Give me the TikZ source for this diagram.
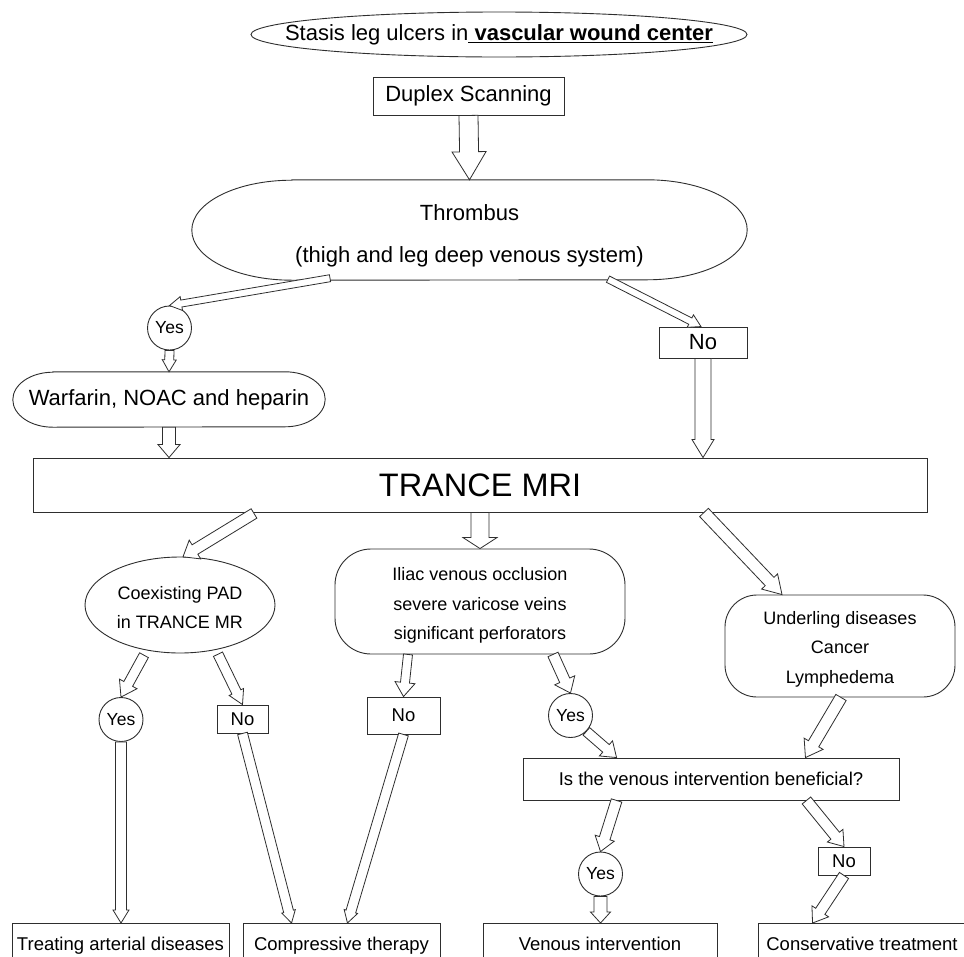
\documentclass[tikz,border=0pt]{standalone}
\usepackage{fontspec}
\setmainfont{Liberation Sans}
\usetikzlibrary{calc,shapes.geometric}
\definecolor{linec}{HTML}{2E2E2E}
\newcommand\fbig{\fontsize{22}{26}\selectfont}
\newcommand\fthr{\fontsize{22}{42}\selectfont}
\newcommand\fmid{\fontsize{18}{29.5}\selectfont}
\newcommand\fyes{\fontsize{17.5}{20}\selectfont}
\newcommand\fhuge{\fontsize{32.5}{38}\selectfont}
\newcommand\fsm{\fontsize{18.5}{22}\selectfont}
\tikzset{
  box/.style={draw=linec, line width=0.9pt, inner sep=0pt, align=center, fill=white},
  txt/.style={inner sep=0pt, align=center},
  shp/.style={draw=linec, line width=0.9pt},
  yesc/.style={box, circle, minimum size=44pt, font=\fyes},
  endbox/.style={box, anchor=north, minimum height=46pt, text height=13pt, text depth=4pt, font=\fsm},
  harrow/.style={draw=linec, line width=0.8pt, fill=white, line join=miter},
}
% hollow arrow: #1 start, #2 end, #3 shaft half width, #4 head half width, #5 head length
\newcommand\harr[5]{%
  \path (#1) coordinate (hA) (#2) coordinate (hB);
  \path ($(hB)!#5pt!(hA)$) coordinate (hH);
  \draw[harrow] ($(hA)!#3pt!90:(hB)$) -- ($(hH)!#3pt!-90:(hA)$) -- ($(hH)!#4pt!-90:(hA)$)
    -- (hB) -- ($(hH)!#4pt!90:(hA)$) -- ($(hH)!#3pt!90:(hA)$) -- ($(hA)!#3pt!-90:(hB)$) -- cycle;
}
\begin{document}
\begin{tikzpicture}[x=1pt,y=-1pt]
\useasboundingbox (0,0) rectangle (964,956);
\clip (0,0) rectangle (964,956);
\fill[white] (0,0) rectangle (964,956);

% nodes
\node[txt, minimum width=496pt, minimum height=45pt, font=\fbig] (title) at (499,34.5)
  {Stasis leg ulcers in\underline{\textbf{\ vascular wound center}}};
\draw[shp] (title.center) ellipse[x radius=248pt, y radius=22.5pt];
\node[box, minimum width=191pt, minimum height=38pt, font=\fbig] (dup) at (468.5,96) {Duplex Scanning};
\node[txt, minimum width=555pt, minimum height=100pt, text height=70pt, font=\fthr] (thr) at (469.5,230)
  {Thrombus\\(thigh and leg deep venous system)};
\draw[shp] ([xshift=100pt]thr.north west) -- ([xshift=-100pt]thr.north east)
  arc[start angle=90, end angle=-90, x radius=100pt, y radius=50pt]
  -- ([xshift=100pt]thr.south west)
  arc[start angle=270, end angle=90, x radius=100pt, y radius=50pt] -- cycle;
\node[yesc] (y1) at (169.5,328) {Yes};
\node[txt, minimum width=312pt, minimum height=55pt, font=\fbig] (war) at (169,399.5) {Warfarin, NOAC and heparin};
\draw[shp] ([xshift=40pt]war.north west) -- ([xshift=-40pt]war.north east)
  arc[start angle=90, end angle=-90, x radius=40pt, y radius=27.5pt]
  -- ([xshift=40pt]war.south west)
  arc[start angle=270, end angle=90, x radius=40pt, y radius=27.5pt] -- cycle;
\node[box, minimum width=88pt, minimum height=31pt, font=\fbig] (n1) at (703,342.5) {No};
\node[box, minimum width=894pt, minimum height=54pt, font=\fhuge] (mri) at (480,485) {TRANCE MRI};
\node[txt, minimum width=190pt, minimum height=96pt, text height=47.5pt, font=\fmid] (pad) at (180,605)
  {Coexisting PAD\\in TRANCE MR};
\draw[shp] (pad.center) ellipse[x radius=95pt, y radius=48pt];
\node[box, rounded corners=36pt, minimum width=290pt, minimum height=105pt, text height=80pt, font=\fmid] (ili) at (480,601.5)
  {Iliac venous occlusion\\severe varicose veins\\significant perforators};
\node[box, rounded corners=32pt, minimum width=230pt, minimum height=102pt, text height=78pt, font=\fmid] (und) at (840,646)
  {Underling diseases\\Cancer\\Lymphedema};
\node[yesc] (y2) at (121,719.5) {Yes};
\node[box, minimum width=51pt, minimum height=28pt, font=\fsm] (n2) at (242.5,719) {No};
\node[box, minimum width=73pt, minimum height=37pt, font=\fsm] (n3) at (403.5,715.5) {No};
\node[yesc] (y3) at (570.5,715.5) {Yes};
\node[box, minimum width=376pt, minimum height=42pt, font=\fsm] (is) at (711,779)
  {Is the venous intervention beneficial?};
\node[yesc] (y4) at (600.5,874) {Yes};
\node[box, minimum width=52pt, minimum height=28pt, font=\fsm] (n4) at (844,861) {No};
\node[endbox, minimum width=217pt] (treat) at (120.5,923) {Treating arterial diseases};
\node[endbox, minimum width=197pt] (comp) at (341.5,923) {Compressive therapy};
\node[endbox, minimum width=234pt] (ven) at (600,923) {Venous intervention};
\node[endbox, minimum width=208pt] (cons) at (862,923) {Conservative treatment};

% connectors
\harr{dup.south}{thr.north}{9.5}{17}{28}
\harr{$(thr.south)+(-139.5,-2)$}{y1.north}{3.5}{7}{12}
\harr{y1.south}{war.north}{4.5}{7}{12}
\harr{$(thr.south)+(138.5,-1)$}{$(n1.north)+(-2,0)$}{3.5}{7}{12}
\harr{n1.south}{n1.south |- mri.north}{8}{11}{18}
\harr{war.south}{war.south |- mri.north}{6.5}{11}{13}
\harr{$(mri.south)+(-226,1)$}{$(pad.north)+(3,0)$}{5.5}{11}{14}
\harr{mri.south}{ili.north}{9}{17}{11}
\harr{$(mri.south)+(224,0)$}{$(und.north)+(-58,0)$}{6}{11}{18}
\harr{$(pad.south)+(-36,2)$}{y2.north}{5}{10}{15}
\harr{$(pad.south)+(38,1)$}{n2.north}{5}{8}{14}
\harr{$(ili.south)+(-72,0)$}{n3.north}{4.5}{10}{14}
\harr{$(ili.south)+(73,0)$}{y3.north}{5.5}{11}{14}
\harr{y3.-45}{$(is.north west)+(94,0)$}{5}{10}{14}
\harr{$(und.south)+(1,0)$}{$(is.north east)+(-94,0)$}{6}{11}{16}
\harr{y2.south}{y2.south |- treat.north}{5.5}{8}{13}
\harr{n2.south}{$(comp.north west)+(49,0)$}{5}{7}{12}
\harr{n3.south}{$(comp.north east)+(-93,0)$}{5}{7}{12}
\harr{$(is.south west)+(94,0)$}{y4.north}{5.5}{10}{14}
\harr{y4.south}{y4.south |- ven.north}{6.5}{10}{11}
\harr{$(is.south east)+(-93,0)$}{n4.north}{5.5}{10}{14}
\harr{n4.south}{$(cons.north west)+(55,0)$}{5.5}{10}{14}
\end{tikzpicture}
\end{document}
